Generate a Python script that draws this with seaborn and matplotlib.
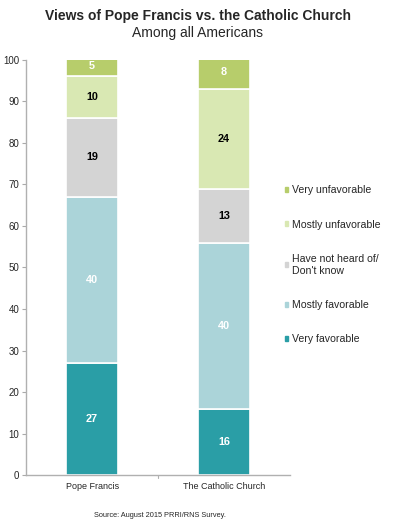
import numpy as np
import pandas as pd
import matplotlib.pyplot as plt
import seaborn as sns
from matplotlib.patches import Patch

groups = ["Pope Francis", "The Catholic Church"]
categories = ["Very favorable", "Mostly favorable",
              "Have not heard of/\nDon't know",
              "Mostly unfavorable", "Very unfavorable"]
very_fav = [27, 16]
mostly_fav = [40, 40]
not_heard = [19, 13]
mostly_unfav = [10, 24]
very_unfav = [5, 8]

colors = ["#2a9ea6", "#abd4d9", "#d4d4d4", "#d9e8b3", "#b7cd6b"]
text_colors = ["white", "white", "black", "black", "white"]
series = [very_fav, mostly_fav, not_heard, mostly_unfav, very_unfav]

sns.set_style("white")
plt.rcParams["font.family"] = ["Liberation Sans", "DejaVu Sans"]

fig = plt.figure(figsize=(3.96, 5.25), dpi=100)
ax = fig.add_axes([0.066, 0.095, 0.666, 0.791])

bottom = np.zeros(len(groups))
for vals, col, tcol in zip(series, colors, text_colors):
    df = pd.DataFrame({"group": groups, "value": vals})
    sns.barplot(data=df, x="group", y="value", bottom=bottom, color=col,
                width=0.39, edgecolor="white", linewidth=1.2, ax=ax,
                saturation=1)
    for i, v in enumerate(vals):
        ax.text(i, bottom[i] + v / 2, str(v), ha="center", va="center",
                fontsize=7.8, fontweight="bold", color=tcol)
    bottom += np.array(vals)

ax.set_xlim(-0.5, 1.5)
ax.set_ylim(0, 100)
ax.set_yticks(range(0, 101, 10))
ax.set_xlabel("")
ax.set_ylabel("")
ax.tick_params(axis="y", labelsize=7, length=3, color="#aaaaaa", left=True, pad=2)
ax.tick_params(axis="x", labelsize=6.5, length=0, pad=5)
for s in ["top", "right"]:
    ax.spines[s].set_visible(False)
for s in ["left", "bottom"]:
    ax.spines[s].set_color("#b0b0b0")
    ax.spines[s].set_linewidth(1)
ax.axvline(0.5, ymin=-0.008, ymax=0, color="#b0b0b0", lw=0.8, clip_on=False)

handles = [Patch(color=c, label=l) for c, l in zip(colors, categories)][::-1]
fig.legend(handles=handles, loc="upper left", bbox_to_anchor=(0.695, 0.665),
           frameon=False, fontsize=7.6, handlelength=0.35, handleheight=0.35,
           handletextpad=0.3, labelspacing=2.3)

fig.text(0.5, 0.969, "Views of Pope Francis vs. the Catholic Church",
         ha="center", va="center", fontsize=10, fontweight="bold")
fig.text(0.5, 0.938, "Among all Americans", ha="center", va="center",
         fontsize=10)
fig.text(0.405, 0.018, "Source: August 2015 PRRI/RNS Survey.", ha="center",
         va="center", fontsize=5.3)

fig.savefig("out.png", dpi=100)
